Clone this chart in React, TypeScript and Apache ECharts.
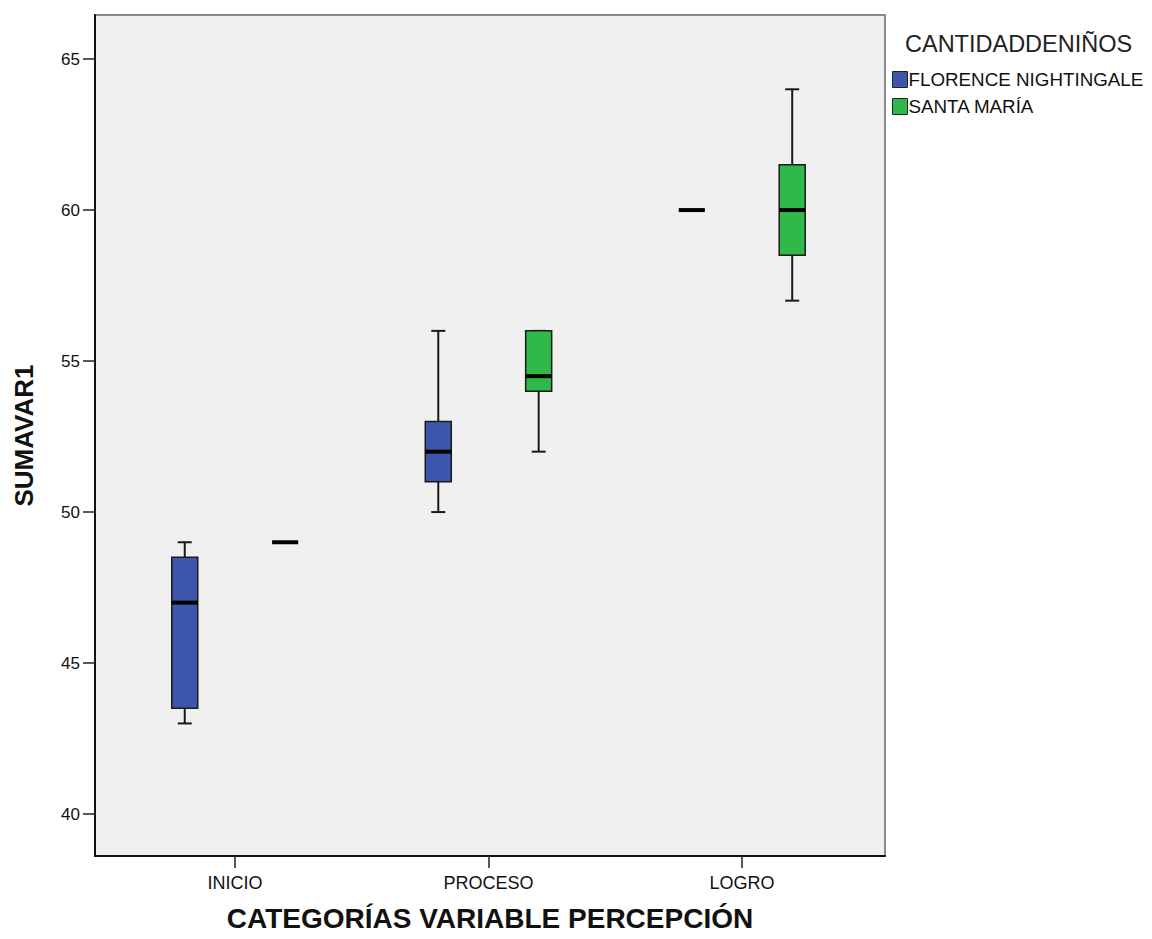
import React, { useEffect, useRef } from "react";
import * as echarts from "echarts";

const categories = ["INICIO", "PROCESO", "LOGRO"];
const seriesNames = ["FLORENCE NIGHTINGALE", "SANTA MARÍA"];
const seriesColors = ["#3D56AC", "#31B84A"];
// [min, q1, median, q3, max] per category
const florence = [
  [43, 43.5, 47, 48.5, 49],
  [50, 51, 52, 53, 56],
  [60, 60, 60, 60, 60],
];
const santaMaria = [
  [49, 49, 49, 49, 49],
  [52, 54, 54.5, 56, 56],
  [57, 58.5, 60, 61.5, 64],
];
const yTicks = [40, 45, 50, 55, 60, 65];
const xTicks = [0, 1, 2];

const FONT = "'Liberation Sans', Arial, sans-serif";

function makeRender(offset: number, color: string) {
  return (params: any, api: any) => {
    const x = api.value(0) + offset;
    const pMin = api.coord([x, api.value(1)]);
    const pQ1 = api.coord([x, api.value(2)]);
    const pMed = api.coord([x, api.value(3)]);
    const pQ3 = api.coord([x, api.value(4)]);
    const pMax = api.coord([x, api.value(5)]);
    const cx = pMed[0];
    const hw = 13;
    const cw = 7;
    const lineStyle = { stroke: "#1a1a1a", lineWidth: 2 };
    return {
      type: "group",
      children: [
        { type: "line", shape: { x1: cx, y1: pQ3[1], x2: cx, y2: pMax[1] }, style: lineStyle },
        { type: "line", shape: { x1: cx, y1: pQ1[1], x2: cx, y2: pMin[1] }, style: lineStyle },
        { type: "line", shape: { x1: cx - cw, y1: pMax[1], x2: cx + cw, y2: pMax[1] }, style: lineStyle },
        { type: "line", shape: { x1: cx - cw, y1: pMin[1], x2: cx + cw, y2: pMin[1] }, style: lineStyle },
        {
          type: "rect",
          shape: { x: cx - hw, y: pQ3[1], width: hw * 2, height: pQ1[1] - pQ3[1] },
          style: { fill: color, stroke: "#1a1a1a", lineWidth: 1.5 },
        },
        {
          type: "line",
          shape: { x1: cx - hw, y1: pMed[1], x2: cx + hw, y2: pMed[1] },
          style: { stroke: "#000", lineWidth: 4 },
        },
      ],
    };
  };
}

export default function App() {
  const ref = useRef<HTMLDivElement>(null);
  useEffect(() => {
    if (!ref.current) return;
    const chart = echarts.init(ref.current, null, { renderer: "svg" });
    const groups = [florence, santaMaria];
    const offsets = [-0.198, 0.198];
    const option: any = {
      animation: false,
      backgroundColor: "#ffffff",
      textStyle: { fontFamily: FONT },
      title: {
        text: "CANTIDADDENIÑOS",
        left: 900,
        top: 27,
        textStyle: { fontFamily: FONT, fontSize: 23.5, fontWeight: "normal", color: "#222" },
      },
      legend: {
        orient: "vertical",
        left: 887,
        top: 65,
        itemWidth: 15,
        itemHeight: 16,
        itemGap: 8,
        icon: "rect",
        data: seriesNames,
        itemStyle: { borderColor: "#222", borderWidth: 1 },
        textStyle: { fontFamily: FONT, fontSize: 18.8, color: "#111", padding: [0, 0, 0, -4] },
      },
      grid: {
        left: 95,
        right: 1152 - 885,
        top: 15,
        bottom: 939 - 856,
        show: true,
        backgroundColor: "#F0F0F0",
        borderColor: "#8a8a8a",
        borderWidth: 2,
      },
      xAxis: {
        type: "value",
        min: -0.552,
        max: 2.564,
        name: "CATEGORÍAS VARIABLE PERCEPCIÓN",
        nameLocation: "middle",
        nameGap: 48,
        nameTextStyle: { fontFamily: FONT, fontSize: 28, fontWeight: "bold", color: "#111" },
        axisLine: { show: true, onZero: false, lineStyle: { color: "#111", width: 2 } },
        axisTick: { show: true, customValues: xTicks, length: 12, inside: false, lineStyle: { color: "#222", width: 1.5 } },
        axisLabel: {
          customValues: xTicks,
          formatter: (v: number) => categories[Math.round(v)] ?? "",
          margin: 18,
          fontFamily: FONT,
          fontSize: 18,
          color: "#111",
        },
        splitLine: { show: false },
      },
      yAxis: {
        type: "value",
        min: 38.61,
        max: 66.46,
        name: "SUMAVAR1",
        nameLocation: "middle",
        nameGap: 58,
        nameTextStyle: { fontFamily: FONT, fontSize: 26, fontWeight: "bold", color: "#111" },
        axisLine: { show: true, onZero: false, lineStyle: { color: "#111", width: 2 } },
        axisTick: { show: true, customValues: yTicks, length: 12, lineStyle: { color: "#222", width: 1.5 } },
        axisLabel: {
          customValues: yTicks,
          margin: 15,
          fontFamily: FONT,
          fontSize: 17,
          color: "#111",
        },
        splitLine: { show: false },
      },
      series: groups.map((g, si) => ({
        type: "custom",
        name: seriesNames[si],
        itemStyle: { color: seriesColors[si], borderColor: "#222", borderWidth: 1 },
        renderItem: makeRender(offsets[si], seriesColors[si]),
        encode: { x: 0, y: [1, 2, 3, 4, 5] },
        data: g.map((v, ci) => [ci, ...v]),
        z: 3,
      })),
    };
    chart.setOption(option);
    return () => chart.dispose();
  }, []);
  return (
    <div
      ref={ref}
      style={{ position: "fixed", left: 0, top: 0, width: 1152, height: 939 }}
    />
  );
}
